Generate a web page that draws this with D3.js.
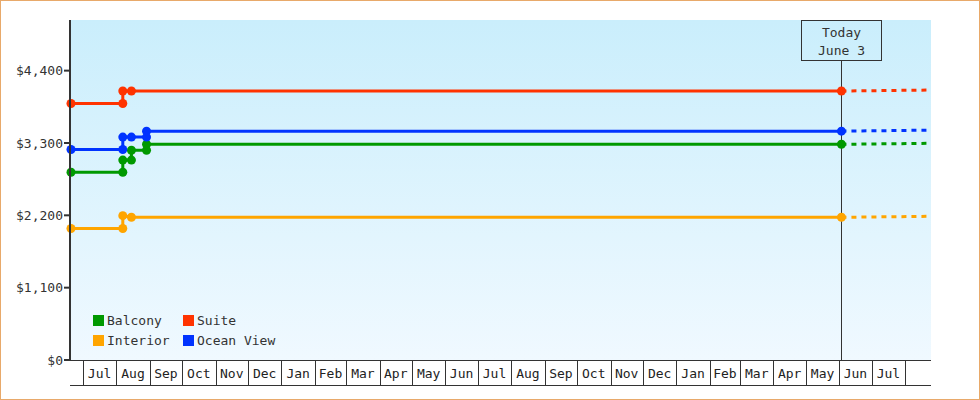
<!DOCTYPE html>
<html>
<head>
<meta charset="utf-8">
<script src="https://cdn.jsdelivr.net/npm/d3@7"></script>
<style>
  html, body { margin: 0; padding: 0; background: #fff; }
  svg { display: block; font-family: "DejaVu Sans Mono", monospace; }
</style>
</head>
<body>
<div id="app"></div>
<script>
// price history, one pair of arrays per cabin type
const seriesNames = ['Balcony', 'Suite', 'Interior', 'Ocean View']
const seriesColors = ['#009900', '#ff3300', '#ffa500', '#0033ff']

const balconyDates = ['2023-06-20', '2023-08-07', '2023-08-07', '2023-08-15', '2023-08-15', '2023-08-29', '2023-08-29', '2025-06-03']
const balconyPrices = [2855, 2855, 3040, 3040, 3190, 3190, 3280, 3280]

const suiteDates = ['2023-06-20', '2023-08-07', '2023-08-07', '2023-08-15', '2025-06-03']
const suitePrices = [3900, 3900, 4090, 4090, 4090]

const interiorDates = ['2023-06-20', '2023-08-07', '2023-08-07', '2023-08-15', '2025-06-03']
const interiorPrices = [2000, 2000, 2195, 2170, 2170]

const oceanDates = ['2023-06-20', '2023-08-07', '2023-08-07', '2023-08-15', '2023-08-29', '2023-08-29', '2025-06-03']
const oceanPrices = [3200, 3200, 3390, 3390, 3390, 3480, 3480]

// projected price at the end of the chart
const forecastDate = '2025-08-25'
const forecastPrices = [3295, 4105, 2185, 3495]

const startDate = '2023-06-20'
const todayDate = '2025-06-03'
const todayLabel = ['Today', 'June 3']

const yTicks = [0, 1100, 2200, 3300, 4400]
const yMax = 5170

;(() => {
    const parse = d3.timeParse('%Y-%m-%d')
    const W = 980, H = 400
    const left = 71, right = 931, top = 20, bottom = 360

    const series = [
        [balconyDates, balconyPrices],
        [suiteDates, suitePrices],
        [interiorDates, interiorPrices],
        [oceanDates, oceanPrices]
    ].map(([ds, ps], i) => ({
        name: seriesNames[i],
        color: seriesColors[i],
        points: ds.map((d, j) => ({ date: parse(d), price: ps[j] })),
        forecast: { date: parse(forecastDate), price: forecastPrices[i] }
    }))

    const start = parse(startDate)
    const end = parse(forecastDate)
    const today = parse(todayDate)

    const x = d3.scaleTime().domain([start, end]).range([left, right])
    const y = d3.scaleLinear().domain([0, yMax]).range([bottom, top])

    const svg = d3.create('svg').attr('width', W).attr('height', H)

    const defs = svg.append('defs')
    const grad = defs.append('linearGradient')
        .attr('id', 'bg').attr('x1', 0).attr('y1', 0).attr('x2', 0).attr('y2', 1)
    grad.append('stop').attr('offset', '0%').attr('stop-color', '#caeefc')
    grad.append('stop').attr('offset', '100%').attr('stop-color', '#f0f9ff')

    // outer frame
    svg.append('rect')
        .attr('x', 0.5).attr('y', 0.5).attr('width', W - 1).attr('height', H - 1)
        .attr('fill', '#fff').attr('stroke', '#e8a96a')

    svg.append('rect')
        .attr('x', left).attr('y', top).attr('width', right - left).attr('height', bottom - top)
        .attr('fill', 'url(#bg)')

    // price lines
    const line = d3.line().x(d => x(d.date)).y(d => y(d.price))

    svg.append('g')
        .selectAll('path.fc')
        .data(series)
        .join('path')
        .attr('d', s => line([s.points[s.points.length - 1], s.forecast]))
        .attr('fill', 'none')
        .attr('stroke', s => s.color)
        .attr('stroke-width', 3)
        .attr('stroke-dasharray', '5,5')

    svg.append('g')
        .selectAll('path')
        .data(series)
        .join('path')
        .attr('d', s => line(s.points))
        .attr('fill', 'none')
        .attr('stroke', s => s.color)
        .attr('stroke-width', 3)

    // today marker
    const tx = Math.floor(x(today)) + 0.5
    svg.append('line')
        .attr('x1', tx).attr('x2', tx).attr('y1', 60.5).attr('y2', bottom)
        .attr('stroke', '#333').attr('stroke-width', 1)

    svg.append('g')
        .selectAll('g')
        .data(series)
        .join('g')
        .attr('fill', s => s.color)
        .selectAll('circle')
        .data(s => s.points)
        .join('circle')
        .attr('cx', d => x(d.date))
        .attr('cy', d => y(d.price))
        .attr('r', 4.5)

    svg.append('rect')
        .attr('x', tx - 40).attr('y', 20.5).attr('width', 80).attr('height', 40)
        .attr('fill', 'none').attr('stroke', '#333')
    svg.append('g')
        .selectAll('text')
        .data(todayLabel)
        .join('text')
        .attr('x', tx)
        .attr('y', (d, i) => 37 + i * 18)
        .attr('text-anchor', 'middle')
        .attr('font-size', 13)
        .attr('fill', '#333')
        .text(d => d)

    // y axis
    svg.append('line')
        .attr('x1', 70).attr('x2', 70).attr('y1', top).attr('y2', bottom + 1)
        .attr('stroke', '#333').attr('stroke-width', 2)
    const yt = svg.append('g').selectAll('g').data(yTicks).join('g')
        .attr('transform', d => `translate(0,${y(d)})`)
    yt.append('line')
        .attr('x1', 64).attr('x2', 70)
        .attr('stroke', '#333').attr('stroke-width', 2)
    yt.append('text')
        .attr('x', 63)
        .attr('dy', '0.35em')
        .attr('text-anchor', 'end')
        .attr('font-size', 13)
        .attr('fill', '#333')
        .text(d => '$' + d3.format(',')(d))

    // x axis: month boxes
    const xa = svg.append('g').attr('shape-rendering', 'crispEdges')
    xa.append('line')
        .attr('x1', 70).attr('x2', right).attr('y1', bottom + 0.5).attr('y2', bottom + 0.5)
        .attr('stroke', '#333')
    xa.append('line')
        .attr('x1', 70).attr('x2', right).attr('y1', 385.5).attr('y2', 385.5)
        .attr('stroke', '#333')
    const months = d3.timeMonth.range(d3.timeMonth.ceil(start), end)
    xa.selectAll('line.m')
        .data(months)
        .join('line')
        .attr('x1', d => Math.round(x(d)) + 0.5)
        .attr('x2', d => Math.round(x(d)) + 0.5)
        .attr('y1', bottom).attr('y2', 385)
        .attr('stroke', '#333')
    svg.append('g')
        .selectAll('text')
        .data(months.filter(m => d3.timeMonth.offset(m, 1) <= end))
        .join('text')
        .attr('x', d => (x(d) + x(d3.timeMonth.offset(d, 1))) / 2)
        .attr('y', 378)
        .attr('text-anchor', 'middle')
        .attr('font-size', 13)
        .attr('fill', '#222')
        .text(d3.timeFormat('%b'))

    // legend
    const lg = svg.append('g')
        .selectAll('g')
        .data(series)
        .join('g')
        .attr('transform', (d, i) => `translate(${i % 2 ? 183 : 93},${i < 2 ? 315 : 335})`)
    lg.append('rect')
        .attr('width', 11).attr('height', 11)
        .attr('fill', d => d.color)
    lg.append('text')
        .attr('x', 14)
        .attr('y', 10)
        .attr('font-size', 13)
        .attr('fill', '#333')
        .text(d => d.name)

    d3.select('#app').append(() => svg.node())
})()
</script>
</body>
</html>
